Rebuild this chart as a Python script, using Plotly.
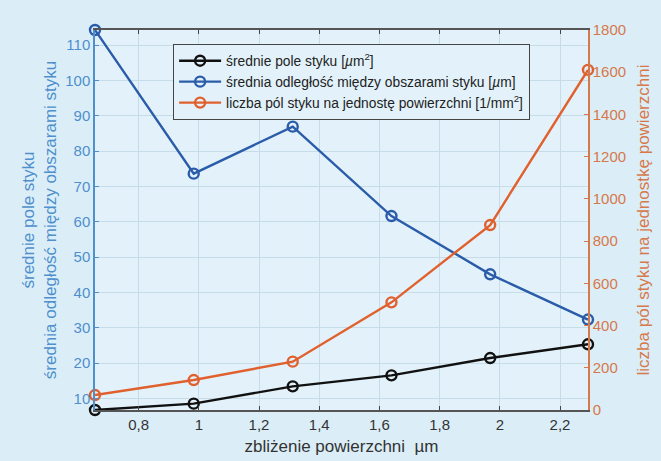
import plotly.graph_objects as go

x_vals = [0.655, 0.983, 1.312, 1.64, 1.968, 2.293]
pole = [6.7, 8.5, 13.4, 16.5, 21.4, 25.3]
odleglosc = [114.25, 73.6, 86.9, 61.6, 45.1, 32.3]
liczba = [71, 142, 229, 510, 876, 1611]

x_ticks = [0.8, 1.0, 1.2, 1.4, 1.6, 1.8, 2.0, 2.2]
x_tick_text = ["0,8", "1", "1,2", "1,4", "1,6", "1,8", "2", "2,2"]
left_ticks = [10, 20, 30, 40, 50, 60, 70, 80, 90, 100, 110]
right_ticks = [0, 200, 400, 600, 800, 1000, 1200, 1400, 1600, 1800]

FONT = "Liberation Sans, Arial, sans-serif"
BLUE_AX = "#4f8fcc"
ORANGE_AX = "#d7784a"
GRID = "#c6dde9"

fig = go.Figure()
fig.add_trace(go.Scatter(
    x=x_vals, y=pole, mode="lines+markers", name="średnie pole styku [<i>µ</i>m<sup>2</sup>]",
    line=dict(color="#111111", width=2.4),
    marker=dict(symbol="circle-open", size=10, color="#111111", line=dict(width=2.4)),
    cliponaxis=False, yaxis="y"))
fig.add_trace(go.Scatter(
    x=x_vals, y=odleglosc, mode="lines+markers",
    name="średnia odległość między obszarami styku [<i>µ</i>m]",
    line=dict(color="#2a5caa", width=2.4),
    marker=dict(symbol="circle-open", size=10, color="#2a5caa", line=dict(width=2.4)),
    cliponaxis=False, yaxis="y"))
fig.add_trace(go.Scatter(
    x=x_vals, y=liczba, mode="lines+markers",
    name="liczba pól styku na jednostę powierzchni [1/mm<sup>2</sup>]",
    line=dict(color="#e0602e", width=2.4),
    marker=dict(symbol="circle-open", size=10, color="#e0602e", line=dict(width=2.4)),
    cliponaxis=False, yaxis="y2"))

fig.update_layout(
    width=661, height=461,
    margin=dict(l=95, r=73, t=30, b=51),
    paper_bgcolor="#dbeef8",
    plot_bgcolor="#e3f2fa",
    font=dict(family=FONT, size=13, color="#333333"),
    showlegend=True,
    legend=dict(x=0.158, y=0.963, xanchor="left", yanchor="top",
                bgcolor="#e3f2fa", bordercolor="#444444", borderwidth=1.2,
                font=dict(family=FONT, size=13.8, color="#222222"),
                itemwidth=42, tracegroupgap=0),
    xaxis=dict(range=[x_vals[0], x_vals[-1]], tickvals=x_ticks, ticktext=x_tick_text,
               ticks="inside", ticklen=4, tickcolor="#444444",
               showline=True, linecolor="#555555", linewidth=1.5, mirror="ticks",
               showgrid=True, gridcolor=GRID, gridwidth=1, zeroline=False,
               automargin=False,
               tickfont=dict(size=15, color="#333333"),
               title=dict(text="zbliżenie powierzchni  µm", font=dict(size=17, color="#333333"),
                          standoff=8)),
    yaxis=dict(range=[pole[0], odleglosc[0]], tickvals=left_ticks,
               ticks="inside", ticklen=4, tickcolor=BLUE_AX,
               showline=True, linecolor=BLUE_AX, linewidth=1.5,
               showgrid=True, gridcolor=GRID, gridwidth=1, zeroline=False,
               automargin=False,
               tickfont=dict(size=15, color=BLUE_AX),
               title=dict(text="średnie pole styku<br>średnia odległość między obszarami styku",
                          font=dict(size=17, color=BLUE_AX), standoff=4)),
    yaxis2=dict(range=[0, 1800], tickvals=right_ticks, overlaying="y", side="right",
                ticks="inside", ticklen=4, tickcolor=ORANGE_AX,
                showline=True, linecolor=ORANGE_AX, linewidth=1.5,
                showgrid=False, zeroline=False,
                automargin=False,
                tickfont=dict(size=15, color=ORANGE_AX),
                title=dict(text="liczba pól styku na jednostkę powierzchni",
                           font=dict(size=17, color=ORANGE_AX), standoff=12)),
)

fig.write_html("out.html")
